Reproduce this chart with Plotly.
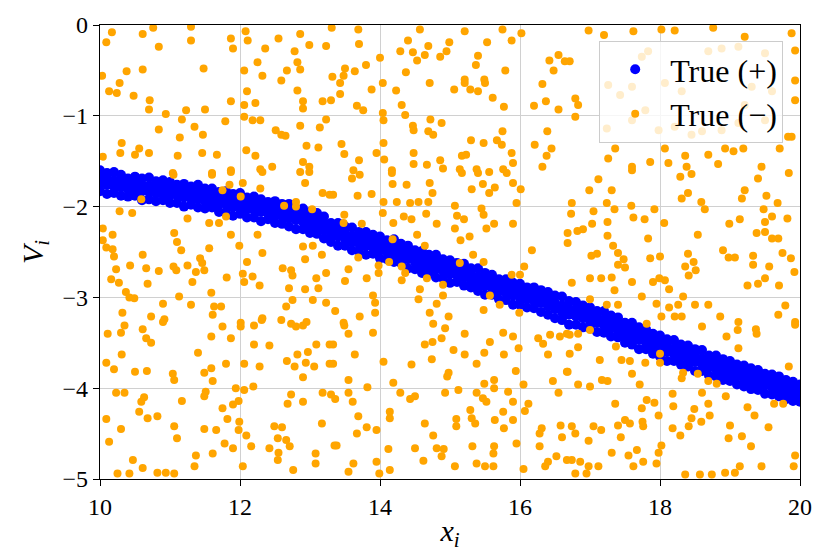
import plotly.graph_objects as go

# Sampled points labelled True (+): each row is x followed by four V values across the band
BLUE_BAND = [
    (10.0, -1.60, -1.68, -1.75, -1.83), (10.1, -1.63, -1.69, -1.76, -1.86),
    (10.2, -1.62, -1.71, -1.78, -1.85), (10.3, -1.65, -1.72, -1.79, -1.88),
    (10.4, -1.69, -1.74, -1.81, -1.89), (10.5, -1.67, -1.75, -1.82, -1.88),
    (10.6, -1.69, -1.76, -1.83, -1.93), (10.7, -1.68, -1.77, -1.84, -1.92),
    (10.8, -1.72, -1.78, -1.85, -1.94), (10.9, -1.71, -1.79, -1.86, -1.93),
    (11.0, -1.73, -1.80, -1.87, -1.96), (11.1, -1.76, -1.81, -1.88, -1.96),
    (11.2, -1.75, -1.83, -1.90, -2.00), (11.3, -1.78, -1.84, -1.91, -1.98),
    (11.4, -1.76, -1.85, -1.92, -2.01), (11.5, -1.80, -1.87, -1.94, -2.02),
    (11.6, -1.80, -1.88, -1.95, -2.01), (11.7, -1.84, -1.90, -1.97, -2.06),
    (11.8, -1.83, -1.91, -1.98, -2.06), (11.9, -1.86, -1.93, -2.00, -2.10),
    (12.0, -1.85, -1.94, -2.01, -2.08), (12.1, -1.90, -1.96, -2.03, -2.12),
    (12.2, -1.89, -1.97, -2.04, -2.12), (12.3, -1.92, -1.99, -2.06, -2.16),
    (12.4, -1.95, -2.00, -2.07, -2.14), (12.5, -1.94, -2.02, -2.09, -2.18),
    (12.6, -1.97, -2.04, -2.11, -2.19), (12.7, -1.97, -2.06, -2.13, -2.22),
    (12.8, -2.02, -2.08, -2.15, -2.25), (12.9, -2.02, -2.10, -2.17, -2.25),
    (13.0, -2.06, -2.13, -2.20, -2.29), (13.1, -2.07, -2.16, -2.23, -2.30),
    (13.2, -2.11, -2.19, -2.26, -2.35), (13.3, -2.18, -2.24, -2.31, -2.39),
    (13.4, -2.18, -2.26, -2.33, -2.43), (13.5, -2.22, -2.29, -2.36, -2.43),
    (13.6, -2.23, -2.32, -2.39, -2.48), (13.7, -2.28, -2.34, -2.41, -2.49),
    (13.8, -2.28, -2.36, -2.43, -2.53), (13.9, -2.31, -2.38, -2.45, -2.52),
    (14.0, -2.33, -2.41, -2.48, -2.57), (14.1, -2.37, -2.43, -2.50, -2.58),
    (14.2, -2.36, -2.45, -2.52, -2.61), (14.3, -2.41, -2.48, -2.55, -2.62),
    (14.4, -2.43, -2.51, -2.58, -2.68), (14.5, -2.48, -2.54, -2.61, -2.69),
    (14.6, -2.49, -2.57, -2.64, -2.73), (14.7, -2.53, -2.60, -2.67, -2.74),
    (14.8, -2.53, -2.62, -2.69, -2.78), (14.9, -2.58, -2.64, -2.71, -2.79),
    (15.0, -2.59, -2.67, -2.74, -2.84), (15.1, -2.62, -2.69, -2.76, -2.83),
    (15.2, -2.63, -2.71, -2.78, -2.87), (15.3, -2.68, -2.74, -2.81, -2.89),
    (15.4, -2.68, -2.77, -2.84, -2.93), (15.5, -2.73, -2.80, -2.87, -2.97),
    (15.6, -2.75, -2.83, -2.90, -2.97), (15.7, -2.80, -2.86, -2.93, -3.02),
    (15.8, -2.80, -2.88, -2.95, -3.03), (15.9, -2.84, -2.91, -2.98, -3.08),
    (16.0, -2.85, -2.94, -3.01, -3.08), (16.1, -2.89, -2.95, -3.02, -3.11),
    (16.2, -2.89, -2.97, -3.04, -3.12), (16.3, -2.92, -2.99, -3.06, -3.16),
    (16.4, -2.94, -3.03, -3.10, -3.19), (16.5, -2.98, -3.06, -3.13, -3.23),
    (16.6, -2.99, -3.09, -3.16, -3.25), (16.7, -3.04, -3.12, -3.19, -3.30),
    (16.8, -3.05, -3.14, -3.21, -3.30), (16.9, -3.09, -3.16, -3.23, -3.33),
    (17.0, -3.11, -3.19, -3.26, -3.34), (17.1, -3.15, -3.21, -3.28, -3.38),
    (17.2, -3.15, -3.24, -3.31, -3.39), (17.3, -3.20, -3.27, -3.34, -3.43),
    (17.4, -3.22, -3.30, -3.37, -3.44), (17.5, -3.28, -3.34, -3.41, -3.50),
    (17.6, -3.28, -3.37, -3.44, -3.52), (17.7, -3.33, -3.40, -3.47, -3.57),
    (17.8, -3.35, -3.43, -3.50, -3.57), (17.9, -3.40, -3.46, -3.53, -3.62),
    (18.0, -3.42, -3.50, -3.57, -3.65), (18.1, -3.46, -3.53, -3.60, -3.70),
    (18.2, -3.47, -3.56, -3.63, -3.70), (18.3, -3.52, -3.58, -3.65, -3.74),
    (18.4, -3.53, -3.61, -3.68, -3.76), (18.5, -3.57, -3.64, -3.71, -3.81),
    (18.6, -3.58, -3.67, -3.74, -3.81), (18.7, -3.64, -3.70, -3.77, -3.86),
    (18.8, -3.64, -3.72, -3.79, -3.87), (18.9, -3.68, -3.75, -3.82, -3.91),
    (19.0, -3.70, -3.78, -3.85, -3.92), (19.1, -3.74, -3.80, -3.87, -3.96),
    (19.2, -3.75, -3.83, -3.90, -3.98), (19.3, -3.78, -3.85, -3.92, -4.01),
    (19.4, -3.80, -3.88, -3.95, -4.02), (19.5, -3.84, -3.90, -3.97, -4.06),
    (19.6, -3.85, -3.92, -3.99, -4.07), (19.7, -3.87, -3.95, -4.02, -4.09),
    (19.8, -3.91, -3.97, -4.04, -4.12), (19.9, -3.93, -4.00, -4.07, -4.14),
    (20.0, -3.96, -4.02, -4.09, -4.15),
]

# Sampled points labelled True (−), as (x, V) pairs
ORANGE_PTS = [
    (10.09, -0.19), (10.61, -0.10), (10.76, -0.03), (10.84, -0.24), (11.30, -0.02), (11.30, -0.17),
    (11.87, -0.15), (11.90, -0.26), (11.48, -0.48), (10.61, -0.49), (10.38, -0.51), (10.03, -0.56),
    (10.28, -0.64), (10.13, -0.73), (10.48, -0.78), (10.71, -0.83), (10.70, -0.93), (10.94, -0.98),
    (11.23, -0.94), (11.50, -0.93), (11.87, -0.84), (11.17, -1.04), (11.35, -1.12), (10.84, -1.15),
    (11.47, -1.21), (11.14, -1.24), (11.79, -1.06), (10.31, -1.30), (10.29, -1.41), (10.56, -1.36),
    (10.70, -1.41), (10.50, -1.43), (11.11, -1.44), (11.46, -1.41), (11.67, -1.43), (10.04, -1.45),
    (11.87, -1.60), (11.60, -1.63), (11.04, -1.63), (10.17, -0.08), (10.24, -0.75),
    (12.08, -0.07), (12.11, -0.17), (12.55, -0.15), (12.86, -0.10), (12.99, -0.22), (13.23, -0.23),
    (13.31, -0.03), (12.36, -0.26), (12.78, -0.29), (12.25, -0.41), (12.82, -0.41), (12.86, -0.49),
    (12.06, -0.50), (12.32, -0.56), (12.67, -0.50), (12.59, -0.61), (13.32, -0.57), (12.10, -0.73),
    (12.82, -0.72), (12.06, -0.88), (12.22, -0.86), (12.90, -0.84), (12.90, -0.92), (13.18, -0.84),
    (13.30, -0.83), (12.06, -1.01), (12.18, -1.05), (12.29, -1.05), (13.23, -1.04), (12.86, -1.11),
    (13.14, -1.13), (12.51, -1.16), (12.59, -1.21), (12.65, -1.22), (12.95, -1.33), (13.12, -1.35),
    (12.09, -1.38), (12.22, -1.44), (12.90, -1.51), (12.99, -1.56), (12.46, -1.56), (12.29, -1.59),
    (13.69, -0.05), (13.70, -0.21), (14.00, -0.36), (13.80, -0.44), (13.50, -0.48), (13.64, -0.51),
    (13.48, -0.56), (13.43, -0.64), (13.43, -0.76), (13.88, -0.71), (13.67, -0.89), (13.76, -0.94),
    (14.40, -0.17), (14.57, -0.05), (14.29, -0.29), (14.47, -0.30), (14.69, -0.23), (14.64, -0.33),
    (14.53, -0.39), (14.86, -0.35), (14.95, -0.29), (14.99, -0.19), (15.21, -0.07), (15.53, -0.19),
    (15.40, -0.34), (15.37, -0.44), (14.37, -0.52), (15.79, -0.50), (15.75, -0.05), (15.88, -0.17),
    (14.04, -0.64), (14.23, -0.72), (14.71, -0.64), (15.21, -0.60), (15.21, -0.64), (15.49, -0.60),
    (15.50, -0.64), (15.29, -0.71), (15.40, -0.73), (15.06, -0.71), (15.61, -0.80), (15.77, -0.90),
    (14.31, -0.88), (14.04, -0.97), (14.36, -0.99), (14.72, -1.04), (14.88, -1.08), (14.05, -1.05),
    (14.47, -1.11), (14.48, -1.16), (14.69, -1.17), (14.76, -1.21), (14.05, -1.30), (15.30, -1.27),
    (15.48, -1.30), (15.67, -1.27), (15.75, -1.17), (15.74, -1.32), (13.45, -1.31), (13.49, -1.42),
    (13.95, -1.41), (14.06, -1.48), (14.48, -1.41), (14.48, -1.53), (14.67, -1.54), (14.86, -1.49),
    (14.90, -1.58), (15.17, -1.44), (15.23, -1.43), (15.14, -1.59), (15.38, -1.59), (15.88, -1.41),
    (15.90, -1.52), (15.76, -1.59), (13.70, -1.49), (13.62, -1.60), (14.17, -1.60),
    (16.02, -0.09), (16.55, -0.33), (16.64, -0.40), (16.42, -0.39), (16.48, -0.50), (16.32, -0.65),
    (16.20, -0.89), (16.37, -0.84), (16.55, -0.93), (16.39, -1.17), (16.21, -1.32), (16.45, -1.36),
    (16.38, -1.44), (16.32, -1.56),
    (16.98, -0.06), (17.20, -0.11), (17.62, -0.07), (18.02, -0.05), (18.21, -0.06), (18.76, -0.03),
    (19.21, -0.13), (19.88, -0.09), (16.71, -0.40), (16.79, -0.81), (16.83, -0.88), (16.79, -1.01),
    (19.93, -0.28), (19.93, -0.61), (19.93, -0.83), (19.88, -1.23), (17.36, -1.36), (17.26, -1.47),
    (17.60, -1.56), (17.86, -1.51), (18.07, -1.36), (18.12, -1.52), (18.36, -1.44), (18.38, -1.56),
    (18.69, -1.43), (18.93, -1.36), (19.05, -1.39), (19.19, -1.36), (18.83, -1.53), (19.45, -1.56),
    (19.71, -1.36), (19.83, -1.23), (17.74, -0.35), (17.83, -0.29), (17.60, -0.68), (17.43, -0.77),
    (17.79, -0.94), (17.60, -1.05), (17.26, -0.66), (17.24, -1.14), (18.07, -0.64), (18.31, -0.73),
    (18.69, -0.29), (18.88, -0.26), (19.12, -0.24), (19.50, -0.31), (19.31, -0.68), (19.60, -0.73),
    (19.12, -1.08), (18.88, -1.16), (18.60, -1.17), (18.45, -1.21), (19.50, -1.05), (19.21, -0.88),
    (18.21, -1.12), (17.98, -1.16),
    (11.05, -1.65), (11.60, -1.65), (11.87, -1.62), (12.04, -1.74), (12.29, -1.80), (12.32, -1.62),
    (12.86, -1.62), (12.99, -1.62), (12.93, -1.74), (13.18, -1.85), (13.28, -1.87), (10.59, -1.92),
    (11.75, -1.82), (12.01, -1.89), (12.80, -1.95), (12.80, -2.00), (12.63, -1.99), (13.03, -2.03),
    (10.28, -2.05), (10.46, -2.07), (11.25, -2.13), (11.56, -2.18), (11.70, -2.18), (11.80, -2.11),
    (10.04, -2.24), (10.18, -2.31), (10.04, -2.37), (10.09, -2.45), (10.18, -2.47), (10.20, -2.55),
    (10.23, -2.69), (11.06, -2.29), (11.10, -2.39), (11.16, -2.48), (10.61, -2.53), (10.43, -2.65),
    (10.66, -2.68), (10.84, -2.71), (11.05, -2.66), (11.09, -2.70), (11.25, -2.65), (11.43, -2.57),
    (11.46, -2.62), (11.37, -2.72), (11.49, -2.70), (11.56, -2.46), (11.87, -2.31), (11.99, -2.43),
    (12.32, -2.51), (12.25, -2.31), (12.10, -2.61), (12.04, -2.74), (12.18, -2.77), (12.06, -2.83),
    (12.28, -2.87), (11.81, -2.78), (11.32, -2.83), (10.16, -2.80), (10.27, -2.84), (10.68, -2.85),
    (10.37, -2.94), (10.42, -3.00), (10.49, -3.01), (11.59, -2.95), (11.13, -2.99), (12.61, -2.68),
    (12.73, -2.70), (12.75, -2.76), (12.70, -2.90), (12.93, -2.58), (12.90, -2.44), (13.04, -2.43),
    (13.17, -2.53), (13.09, -2.79), (13.12, -2.90), (13.23, -2.73), (12.93, -2.91), (13.04, -3.03),
    (13.23, -3.06), (10.90, -3.07), (11.30, -3.08), (11.63, -3.10), (11.73, -3.10), (10.32, -3.17),
    (10.73, -3.21), (10.92, -3.24), (11.61, -3.19), (12.32, -3.23), (12.66, -3.10), (12.59, -3.25),
    (12.01, -3.28), (12.95, -3.27), (12.75, -3.03), (11.85, -1.76),
    (13.60, -1.69), (13.71, -1.65), (13.68, -1.88), (13.88, -1.86), (14.17, -1.63), (14.18, -1.75),
    (14.38, -1.76), (14.71, -1.74), (14.75, -1.85), (14.05, -1.95), (14.24, -1.95), (14.43, -1.96),
    (14.55, -1.95), (14.69, -1.95), (15.17, -1.63), (15.40, -1.63), (15.56, -1.62), (15.31, -1.81),
    (15.47, -1.75), (15.64, -1.79), (15.56, -1.85), (15.81, -1.63), (15.90, -1.74), (16.01, -1.81),
    (15.95, -1.96), (15.07, -1.99), (14.04, -2.07), (14.19, -2.18), (14.34, -2.11), (14.45, -2.14),
    (14.66, -2.08), (14.81, -2.19), (15.10, -2.10), (15.20, -2.14), (15.07, -2.24), (15.15, -2.37),
    (15.28, -2.33), (15.48, -2.09), (15.45, -2.02), (15.52, -2.24), (15.63, -2.19), (15.90, -2.19),
    (14.53, -2.31), (14.64, -2.43), (14.18, -2.36), (13.74, -2.19), (13.49, -2.09), (13.48, -2.18),
    (15.33, -2.53), (15.48, -2.61), (15.14, -2.62), (16.17, -2.48), (16.06, -2.66), (15.88, -2.75),
    (16.00, -2.75), (13.69, -2.56), (13.55, -2.69), (13.50, -2.82), (13.81, -2.79), (13.98, -2.65),
    (13.98, -2.73), (14.13, -2.61), (14.31, -2.66), (14.31, -2.81), (14.36, -2.73), (14.67, -2.79),
    (14.90, -2.86), (14.57, -2.91), (14.90, -2.98), (13.90, -2.98), (13.93, -3.06), (14.55, -3.02),
    (14.81, -3.07), (14.71, -3.17), (14.98, -3.21), (15.57, -2.98), (15.71, -3.08), (15.48, -3.14),
    (15.99, -3.17), (13.93, -3.17), (13.71, -3.21), (13.36, -3.15), (13.48, -3.28), (13.33, -1.87),
    (17.12, -1.70), (16.99, -1.82), (17.31, -1.82), (17.60, -1.60), (16.74, -1.96), (16.73, -2.08),
    (17.24, -1.96), (17.35, -2.03), (17.05, -2.05), (17.59, -1.99), (17.62, -2.12), (17.78, -2.14),
    (17.92, -2.03), (17.25, -2.17), (17.03, -2.19), (16.90, -2.25), (16.82, -2.27), (16.68, -2.29),
    (17.25, -2.32), (17.33, -2.43), (17.40, -2.51), (17.48, -2.58), (17.40, -2.64), (17.50, -2.67),
    (17.83, -2.35), (17.02, -2.54), (17.10, -2.52), (16.68, -2.40), (17.86, -2.57), (18.00, -2.55),
    (18.06, -2.18), (18.29, -1.67), (18.45, -1.64), (18.31, -1.91), (18.40, -1.85), (18.59, -1.95),
    (18.64, -2.03), (18.54, -2.31), (18.99, -2.19), (19.14, -2.14), (19.21, -1.82), (19.17, -1.91),
    (19.40, -1.69), (19.52, -1.88), (19.68, -1.96), (19.84, -1.63), (19.48, -2.03), (19.60, -2.11),
    (19.50, -2.17), (19.82, -2.13), (19.38, -2.29), (19.50, -2.28), (19.60, -2.35), (19.69, -2.35),
    (18.90, -2.48), (18.98, -2.56), (19.07, -2.56), (19.33, -2.54), (19.33, -2.64), (19.56, -2.66),
    (19.75, -2.51), (19.87, -2.57), (19.92, -2.72), (18.40, -2.52), (18.36, -2.66), (18.48, -2.61),
    (18.51, -2.70), (18.41, -2.76), (19.50, -2.79), (19.25, -2.87), (19.40, -2.85), (19.70, -2.87),
    (16.74, -2.84), (17.00, -2.79), (17.16, -2.79), (17.31, -2.78), (17.35, -2.92), (17.60, -2.83),
    (17.90, -2.83), (17.99, -2.79), (18.07, -2.81), (18.13, -2.91), (17.74, -2.99), (17.00, -3.02),
    (17.24, -3.08), (17.40, -3.08), (17.95, -3.07), (18.13, -3.11), (18.26, -3.08), (18.33, -2.99),
    (18.50, -3.08), (18.69, -3.08), (18.02, -3.21), (18.21, -3.21), (18.31, -3.21), (18.86, -3.21),
    (19.12, -3.27), (19.79, -3.09), (19.69, -3.19), (19.93, -3.27),
    (10.11, -3.40), (10.30, -3.39), (10.35, -3.31), (10.61, -3.35), (10.66, -3.45), (10.73, -3.50),
    (10.90, -3.27), (11.59, -3.43), (11.75, -3.32), (11.87, -3.45), (12.01, -3.32), (12.20, -3.31),
    (12.31, -3.25), (12.80, -3.32), (12.90, -3.31), (12.73, -3.29), (10.09, -3.72), (10.20, -3.79),
    (10.31, -3.63), (10.50, -3.82), (10.67, -3.81), (11.04, -3.84), (11.06, -3.91), (11.40, -3.61),
    (11.49, -3.83), (11.59, -3.78), (11.61, -3.92), (11.80, -3.73), (12.20, -3.52), (12.42, -3.53),
    (12.06, -3.73), (12.28, -3.76), (12.67, -3.70), (12.82, -3.63), (12.78, -3.76), (12.94, -3.72),
    (13.06, -3.76), (12.90, -3.88), (13.09, -3.52), (13.28, -3.52), (13.28, -3.73), (12.97, -3.60),
    (10.23, -4.05), (10.35, -4.05), (10.63, -4.10), (10.59, -4.15), (11.17, -4.14), (11.51, -4.04),
    (11.49, -4.09), (11.94, -4.00), (12.06, -4.02), (12.19, -3.98), (11.98, -4.14), (11.90, -4.18),
    (11.75, -4.22), (10.56, -4.26), (10.68, -4.33), (10.82, -4.31), (10.09, -4.34), (10.30, -4.45),
    (10.13, -4.59), (11.06, -4.42), (11.10, -4.55), (11.49, -4.45), (11.66, -4.46), (11.82, -4.34),
    (11.99, -4.37), (11.98, -4.46), (12.09, -4.52), (11.78, -4.61), (11.90, -4.66), (11.61, -4.72),
    (11.37, -4.74), (11.35, -4.86), (10.47, -4.79), (10.61, -4.88), (10.25, -4.94), (10.42, -4.94),
    (10.82, -4.93), (10.94, -4.93), (11.06, -4.94), (12.04, -4.86), (12.16, -4.64), (12.42, -4.66),
    (12.55, -4.71), (12.54, -4.79), (12.73, -4.07), (12.68, -4.17), (12.90, -4.15), (13.18, -4.05),
    (13.30, -4.07), (12.49, -4.42), (12.60, -4.43), (12.54, -4.55), (12.66, -4.57), (12.71, -4.64),
    (13.17, -4.39), (13.08, -4.72), (13.08, -4.83), (12.76, -4.90), (13.35, -4.63),
    (13.49, -3.31), (13.55, -3.40), (13.33, -3.52), (13.64, -3.63), (13.33, -3.73), (13.55, -3.91),
    (13.82, -3.99), (13.55, -4.05), (13.36, -4.12), (13.61, -4.15), (13.90, -3.39), (14.05, -3.71),
    (14.45, -3.74), (14.64, -3.52), (14.75, -3.49), (14.88, -3.45), (14.93, -3.34), (14.76, -3.29),
    (14.74, -3.68), (15.05, -3.58), (15.21, -3.40), (15.21, -3.63), (15.38, -3.73), (15.49, -3.61),
    (15.57, -3.49), (15.76, -3.39), (15.90, -3.43), (15.77, -3.63), (15.98, -3.56), (14.98, -3.83),
    (14.96, -3.87), (15.94, -3.81), (14.19, -3.94), (14.29, -4.05), (14.43, -4.12), (14.50, -4.09),
    (14.93, -4.05), (15.12, -4.02), (15.38, -4.05), (15.47, -4.11), (15.52, -4.15), (15.49, -3.95),
    (15.63, -3.91), (15.63, -4.00), (15.83, -4.04), (15.90, -4.15), (14.14, -4.26), (14.14, -4.33),
    (14.64, -4.39), (14.76, -4.52), (15.09, -4.34), (15.09, -4.42), (15.29, -4.24), (15.31, -4.33),
    (15.36, -4.39), (15.64, -4.35), (15.76, -4.26), (15.90, -4.35), (15.77, -4.44), (13.69, -4.31),
    (13.81, -4.43), (13.67, -4.50), (13.95, -4.46), (13.38, -4.63), (14.12, -4.67), (14.50, -4.66),
    (14.81, -4.66), (14.91, -4.67), (14.88, -4.75), (15.32, -4.64), (15.63, -4.64), (15.62, -4.72),
    (15.95, -4.61), (14.62, -4.80), (13.95, -4.81), (13.62, -4.83), (13.55, -4.92), (13.99, -4.94),
    (14.14, -4.90), (15.07, -4.86), (15.38, -4.83), (15.50, -4.86), (15.62, -4.86), (16.05, -4.89),
    (16.26, -3.45), (16.33, -3.51), (16.43, -3.41), (16.57, -3.43), (16.67, -3.40), (16.40, -3.63),
    (16.67, -3.82), (16.47, -3.92), (16.05, -3.96), (16.55, -4.05), (16.12, -4.17), (16.07, -4.25),
    (16.31, -4.44), (16.28, -4.50), (16.58, -4.41), (16.60, -4.54), (16.28, -4.64), (16.52, -4.75),
    (16.40, -4.81), (16.36, -4.86), (16.67, -4.79),
    (16.71, -3.41), (16.83, -3.40), (17.00, -3.36), (16.71, -3.62), (16.83, -3.55), (16.68, -3.82),
    (16.83, -3.96), (17.00, -3.98), (17.14, -3.69), (17.37, -3.54), (17.45, -3.69), (17.57, -3.70),
    (17.79, -3.72), (18.00, -3.72), (18.00, -3.62), (17.60, -3.84), (17.17, -3.91), (17.25, -3.92),
    (17.71, -3.96), (18.33, -3.83), (18.31, -3.89), (18.54, -3.84), (18.69, -3.92), (18.81, -3.95),
    (18.60, -3.32), (18.95, -3.43), (19.12, -3.56), (19.11, -3.36), (19.37, -3.35), (19.38, -3.40),
    (19.93, -3.30), (19.84, -3.76), (17.81, -3.29), (17.36, -4.17), (17.74, -4.22), (17.81, -4.13),
    (17.92, -4.16), (17.98, -4.30), (18.18, -4.06), (18.19, -4.20), (18.49, -4.23), (18.60, -4.05),
    (18.69, -4.17), (18.71, -4.30), (18.94, -4.09), (19.25, -4.21), (19.35, -4.30), (19.63, -4.17),
    (19.76, -4.17), (16.74, -4.42), (16.79, -4.50), (17.05, -4.42), (17.16, -4.46), (17.40, -4.41),
    (17.50, -4.35), (17.57, -4.39), (17.75, -4.37), (17.76, -4.42), (17.44, -4.54), (16.98, -4.58),
    (18.18, -4.44), (18.29, -4.52), (18.41, -4.42), (18.45, -4.33), (18.59, -4.37), (19.00, -4.41),
    (18.98, -4.55), (19.17, -4.53), (19.30, -4.64), (19.55, -4.43), (17.31, -4.71), (17.55, -4.74),
    (17.67, -4.68), (17.62, -4.86), (17.76, -4.81), (17.98, -4.71), (18.02, -4.63), (17.95, -4.83),
    (16.74, -4.79), (16.86, -4.81), (16.98, -4.86), (17.12, -4.86), (16.79, -4.94), (16.95, -4.94),
    (18.36, -4.95), (18.57, -4.95), (18.74, -4.95), (18.93, -4.93), (19.14, -4.86), (19.45, -4.86),
    (19.93, -4.74), (19.91, -4.86), (19.07, -4.93),
]

X_TICKS = [10, 12, 14, 16, 18, 20]
Y_TICKS = [-5, -4, -3, -2, -1, 0]
LABEL_POS = "True (+)"
LABEL_NEG = "True (\u2212)"

blue_x = [row[0] for row in BLUE_BAND for _ in row[1:]]
blue_y = [v for row in BLUE_BAND for v in row[1:]]
orange_x = [p[0] for p in ORANGE_PTS]
orange_y = [p[1] for p in ORANGE_PTS]

SERIF = "Times New Roman"

fig = go.Figure()
fig.add_trace(go.Scatter(
    x=blue_x, y=blue_y, mode="markers", name=LABEL_POS,
    marker=dict(color="#0000ff", size=10, line=dict(width=0)),
))
fig.add_trace(go.Scatter(
    x=orange_x, y=orange_y, mode="markers", name=LABEL_NEG,
    marker=dict(color="#ffa500", size=8, line=dict(width=0)),
))

tick_font = dict(family=SERIF, size=24, color="black")
title_font = dict(family=SERIF, size=30, color="black")

fig.update_xaxes(
    range=[10, 20], tickvals=X_TICKS,
    showgrid=True, gridcolor="#d0d0d0", gridwidth=1,
    showline=True, mirror=True, linecolor="black", linewidth=1.3,
    ticks="outside", ticklen=6, tickwidth=1.2, tickcolor="black",
    tickfont=tick_font, zeroline=False, automargin=False,
    title=dict(text="<i>x<sub>i</sub></i>", font=title_font, standoff=6),
)
fig.update_yaxes(
    range=[-5, 0], tickvals=Y_TICKS,
    showgrid=True, gridcolor="#d0d0d0", gridwidth=1,
    showline=True, mirror=True, linecolor="black", linewidth=1.3,
    ticks="outside", ticklen=6, tickwidth=1.2, tickcolor="black",
    tickfont=tick_font, zeroline=False, automargin=False,
    title=dict(text="<i>V<sub>i</sub></i>", font=title_font, standoff=10),
)

fig.update_layout(
    width=816, height=552,
    margin=dict(l=100, r=16, t=25, b=73),
    paper_bgcolor="white", plot_bgcolor="white",
    legend=dict(
        x=0.976, y=0.965, xanchor="right", yanchor="top",
        bgcolor="rgba(255,255,255,0.8)", bordercolor="#cccccc", borderwidth=1,
        font=dict(family=SERIF, size=32, color="black"),
        itemwidth=60,
    ),
)

fig.write_html("out.html")
